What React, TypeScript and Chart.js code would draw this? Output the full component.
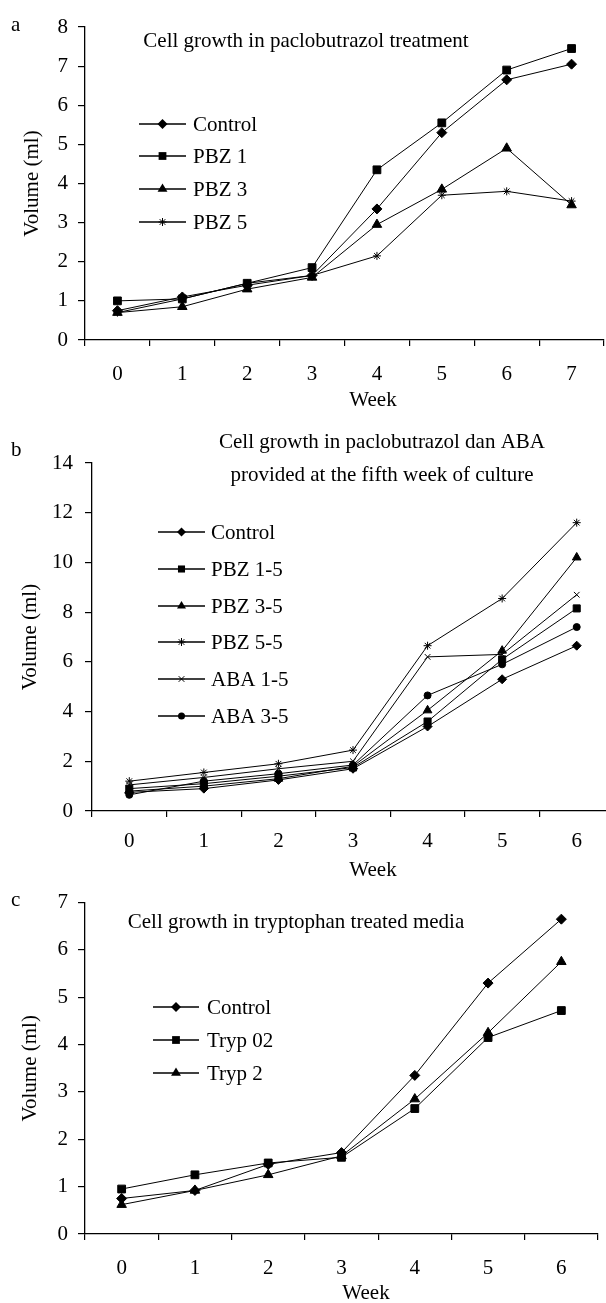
import React, { useEffect, useRef } from 'react';
import { Chart, registerables } from 'chart.js';

Chart.register(...registerables);

const SERIF = '"Liberation Serif", "Times New Roman", Times, serif';

// ---------- Panel a ----------
const weeksA = ['0', '1', '2', '3', '4', '5', '6', '7'];
const controlA = [0.75, 1.1, 1.4, 1.65, 3.35, 5.3, 6.65, 7.05];
const pbz1A = [1.0, 1.05, 1.45, 1.85, 4.35, 5.55, 6.9, 7.45];
const pbz3A = [0.7, 0.85, 1.3, 1.6, 2.95, 3.85, 4.9, 3.45];
const pbz5A = [0.7, 1.05, 1.45, 1.65, 2.15, 3.7, 3.8, 3.55];

// ---------- Panel b ----------
const weeksB = ['0', '1', '2', '3', '4', '5', '6'];
const controlB = [0.75, 0.9, 1.25, 1.7, 3.4, 5.3, 6.65];
const pbz15B = [0.9, 1.1, 1.4, 1.75, 3.6, 6.1, 8.15];
const pbz35B = [0.8, 1.0, 1.3, 1.8, 4.05, 6.45, 10.2];
const pbz55B = [1.2, 1.55, 1.9, 2.45, 6.65, 8.55, 11.6];
const aba15B = [1.05, 1.35, 1.7, 2.0, 6.2, 6.3, 8.7];
const aba35B = [0.65, 1.2, 1.5, 1.85, 4.65, 5.9, 7.4];

// ---------- Panel c ----------
const weeksC = ['0', '1', '2', '3', '4', '5', '6'];
const controlC = [0.75, 0.92, 1.47, 1.72, 3.35, 5.3, 6.65];
const tryp02C = [0.95, 1.25, 1.5, 1.62, 2.65, 4.15, 4.72];
const tryp2C = [0.62, 0.92, 1.25, 1.65, 2.85, 4.25, 5.75];

const titleA = ['Cell growth in paclobutrazol treatment'];
const titleB = ['Cell growth in paclobutrazol dan ABA', 'provided at the fifth week of culture'];
const titleC = ['Cell growth in tryptophan treated media'];

type Series = { label: string; data: number[]; style: string; radius: number };

const seriesA: Series[] = [
  { label: 'Control', data: controlA, style: 'rectRot', radius: 5 },
  { label: 'PBZ 1', data: pbz1A, style: 'rect', radius: 5.5 },
  { label: 'PBZ 3', data: pbz3A, style: 'triangle', radius: 5.5 },
  { label: 'PBZ 5', data: pbz5A, style: 'star', radius: 4 },
];
const seriesB: Series[] = [
  { label: 'Control', data: controlB, style: 'rectRot', radius: 4.5 },
  { label: 'PBZ 1-5', data: pbz15B, style: 'rect', radius: 5 },
  { label: 'PBZ 3-5', data: pbz35B, style: 'triangle', radius: 5 },
  { label: 'PBZ 5-5', data: pbz55B, style: 'star', radius: 4 },
  { label: 'ABA 1-5', data: aba15B, style: 'crossRot', radius: 4 },
  { label: 'ABA 3-5', data: aba35B, style: 'circle', radius: 3.5 },
];
const seriesC: Series[] = [
  { label: 'Control', data: controlC, style: 'rectRot', radius: 5 },
  { label: 'Tryp 02', data: tryp02C, style: 'rect', radius: 5.5 },
  { label: 'Tryp 2', data: tryp2C, style: 'triangle', radius: 5.5 },
];

type Spec = {
  H: number; left: number; right: number; top: number; bottom: number;
  yMax: number; step: number; xPad: number; yPad: number; yTitlePad: number;
  letter: string; letterX: number; letterY: number;
  title: string[]; titleX: number; titleY: number[];
  legX1: number; legX2: number; legTextX: number; legY: number[];
  weekX: number; weekY: number;
  labels: string[]; series: Series[];
};

const W = 620;

const specs: Spec[] = [
  {
    H: 410, left: 85, right: 604, top: 27, bottom: 340, yMax: 8, step: 1, xPad: 16, yPad: 10, yTitlePad: 20,
    letter: 'a', letterX: 11, letterY: 25,
    title: titleA, titleX: 306, titleY: [41],
    legX1: 139, legX2: 186, legTextX: 193, legY: [124, 156, 189, 222],
    weekX: 373, weekY: 400, labels: weeksA, series: seriesA,
  },
  {
    H: 470, left: 92, right: 615, top: 53, bottom: 401, yMax: 14, step: 2, xPad: 12, yPad: 12, yTitlePad: 18,
    letter: 'b', letterX: 11, letterY: 40,
    title: titleB, titleX: 382, titleY: [32, 65],
    legX1: 158, legX2: 205, legTextX: 211, legY: [122, 159, 196, 232, 269, 306],
    weekX: 373, weekY: 460, labels: weeksB, series: seriesB,
  },
  {
    H: 423, left: 85, right: 598, top: 22, bottom: 354, yMax: 7, step: 1, xPad: 16, yPad: 10, yTitlePad: 18,
    letter: 'c', letterX: 11, letterY: 20,
    title: titleC, titleX: 296, titleY: [42],
    legX1: 153, legX2: 199, legTextX: 207, legY: [127, 160, 193],
    weekX: 366, weekY: 413, labels: weeksC, series: seriesC,
  },
];

const tops = [0, 410, 880];

function drawMarker(ctx: CanvasRenderingContext2D, style: string, x: number, y: number, r: number) {
  ctx.save();
  ctx.fillStyle = '#000';
  ctx.strokeStyle = '#000';
  ctx.lineWidth = 1;
  ctx.beginPath();
  if (style === 'rectRot') {
    ctx.moveTo(x, y - r); ctx.lineTo(x + r, y); ctx.lineTo(x, y + r); ctx.lineTo(x - r, y); ctx.closePath(); ctx.fill();
  } else if (style === 'rect') {
    const s = r * Math.SQRT1_2;
    ctx.rect(x - s, y - s, 2 * s, 2 * s); ctx.fill();
  } else if (style === 'triangle') {
    const h = r * 1.5;
    ctx.moveTo(x, y - r); ctx.lineTo(x + r * 0.9, y + h - r); ctx.lineTo(x - r * 0.9, y + h - r); ctx.closePath(); ctx.fill();
  } else if (style === 'circle') {
    ctx.arc(x, y, r, 0, Math.PI * 2); ctx.fill();
  } else if (style === 'star') {
    const d = r * Math.SQRT1_2;
    ctx.moveTo(x, y - r); ctx.lineTo(x, y + r);
    ctx.moveTo(x - r, y); ctx.lineTo(x + r, y);
    ctx.moveTo(x - d, y - d); ctx.lineTo(x + d, y + d);
    ctx.moveTo(x + d, y - d); ctx.lineTo(x - d, y + d);
    ctx.stroke();
  } else if (style === 'crossRot') {
    const d = r * Math.SQRT1_2;
    ctx.moveTo(x - d, y - d); ctx.lineTo(x + d, y + d);
    ctx.moveTo(x + d, y - d); ctx.lineTo(x - d, y + d);
    ctx.stroke();
  }
  ctx.restore();
}

function makeChart(canvas: HTMLCanvasElement, spec: Spec) {
  const deco = {
    id: 'deco',
    afterDraw(chart: any) {
      const ctx: CanvasRenderingContext2D = chart.ctx;
      ctx.save();
      ctx.fillStyle = '#000';
      ctx.strokeStyle = '#000';
      ctx.font = `21px ${SERIF}`;
      ctx.textBaseline = 'middle';
      ctx.textAlign = 'left';
      ctx.fillText(spec.letter, spec.letterX, spec.letterY);
      ctx.textAlign = 'center';
      spec.title.forEach((t, i) => ctx.fillText(t, spec.titleX, spec.titleY[i]));
      ctx.fillText('Week', spec.weekX, spec.weekY);
      spec.series.forEach((s, i) => {
        const y = spec.legY[i];
        ctx.beginPath();
        ctx.lineWidth = 1.3;
        ctx.moveTo(spec.legX1, y);
        ctx.lineTo(spec.legX2, y);
        ctx.stroke();
        drawMarker(ctx, s.style, (spec.legX1 + spec.legX2) / 2, y, s.radius);
        ctx.textAlign = 'left';
        ctx.fillStyle = '#000';
        ctx.fillText(s.label, spec.legTextX, y + 1);
      });
      ctx.restore();
    },
  };

  const font = { family: SERIF, size: 21 };

  return new Chart(canvas, {
    type: 'line',
    data: {
      labels: spec.labels,
      datasets: spec.series.map((s) => ({
        label: s.label,
        data: s.data,
        borderColor: '#000',
        backgroundColor: '#000',
        borderWidth: 1,
        tension: 0,
        pointStyle: s.style as any,
        pointRadius: s.radius,
        pointBackgroundColor: '#000',
        pointBorderColor: '#000',
        pointBorderWidth: 1,
      })),
    },
    options: {
      responsive: false,
      animation: false,
      events: [],
      layout: { padding: { top: spec.top, right: W - spec.right, left: 0, bottom: 0 } },
      plugins: { legend: { display: false }, title: { display: false }, tooltip: { enabled: false } },
      scales: {
        x: {
          type: 'category',
          offset: true,
          grid: { offset: true, drawOnChartArea: false, drawTicks: true, tickLength: 6, color: '#000', lineWidth: 1.2 },
          border: { display: true, color: '#000', width: 1.3 },
          ticks: { color: '#000', font, padding: spec.xPad, maxRotation: 0, autoSkip: false },
          afterFit: (scale: any) => { scale.height = spec.H - spec.bottom; },
        },
        y: {
          min: 0,
          max: spec.yMax,
          grid: { drawOnChartArea: false, drawTicks: true, tickLength: 7, color: '#000', lineWidth: 1.2 },
          border: { display: true, color: '#000', width: 1.3 },
          ticks: { stepSize: spec.step, color: '#000', font, padding: spec.yPad },
          title: { display: true, text: 'Volume (ml)', color: '#000', font, padding: { top: spec.yTitlePad, bottom: 0 } },
          afterFit: (scale: any) => { scale.width = spec.left; },
        },
      },
    },
    plugins: [deco],
  } as any);
}

export default function App() {
  const refA = useRef<HTMLCanvasElement>(null);
  const refB = useRef<HTMLCanvasElement>(null);
  const refC = useRef<HTMLCanvasElement>(null);

  useEffect(() => {
    const refs = [refA, refB, refC];
    const charts = refs.map((r, i) => makeChart(r.current as HTMLCanvasElement, specs[i]));
    return () => charts.forEach((c) => c.destroy());
  }, []);

  const refs = [refA, refB, refC];
  return (
    <div style={{ position: 'absolute', left: 0, top: 0, width: 606, height: 1303, overflow: 'hidden', background: '#fff' }}>
      {specs.map((s, i) => (
        <canvas
          key={i}
          ref={refs[i]}
          width={W}
          height={s.H}
          style={{ position: 'absolute', left: 0, top: tops[i], width: W, height: s.H, display: 'block' }}
        />
      ))}
    </div>
  );
}
